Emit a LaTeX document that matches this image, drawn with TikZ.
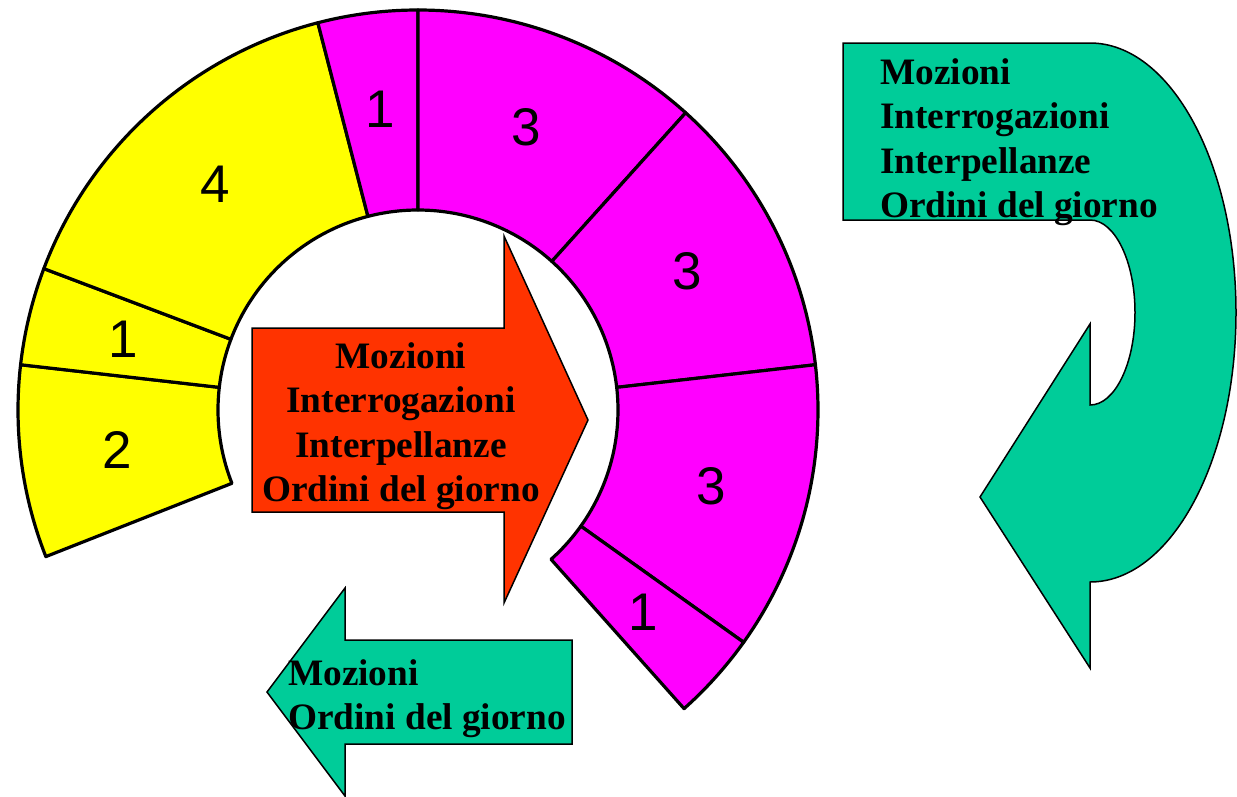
\documentclass[tikz,border=0pt]{standalone}
\usepackage{fontspec}
\setmainfont{Liberation Serif}
\newfontfamily\numfont{Liberation Sans}

\definecolor{segyellow}{RGB}{255,255,0}
\definecolor{segmagenta}{RGB}{255,0,255}
\definecolor{arrowred}{RGB}{255,51,0}
\definecolor{arrowgreen}{RGB}{0,204,153}

\tikzset{
  sector/.style={draw=black, line width=3.2pt, line join=round},
  segnum/.style={font=\numfont\fontsize{53}{53}\selectfont, inner sep=0pt},
  bigarrow/.style={draw=black, line width=1.5pt},
  itemtext/.style={font=\bfseries\fontsize{37.3}{44.6}\selectfont, inner sep=0pt}
}

\begin{document}
\begin{tikzpicture}[x=1pt, y=-1pt]
  \useasboundingbox (0,0) rectangle (1237,796);

  % ring of seats
  \begin{scope}[shift={(418,410)}]
    \foreach \a/\b/\c/\n [count=\i] in {-201.5/-173.5/segyellow/2, -173.5/-159.3/segyellow/1,
        -159.3/-104.5/segyellow/4, -104.5/-90/segmagenta/1, -90/-48/segmagenta/3,
        -48/-6.5/segmagenta/3, -6.5/35.5/segmagenta/3, 35.5/48.3/segmagenta/1}
    {
      \draw[sector, fill=\c] (\a:200) -- (\a:400) arc[start angle=\a, end angle=\b, radius=400]
        -- (\b:200) arc[start angle=\b, end angle=\a, radius=200] -- cycle;
      \node[segnum] (seg\i) at ({(\a+\b)/2}:303) {\n};
    }
  \end{scope}

  % arrows
  \draw[bigarrow, fill=arrowred] (252,328) -- (504,328) -- (504,236) -- (588,420)
    -- (504,603) -- (504,512) -- (252,512) -- cycle;
  \draw[bigarrow, fill=arrowgreen] (572,640) -- (345,640) -- (345,588) -- (267,692)
    -- (345,796) -- (345,744) -- (572,744) -- cycle;
  \draw[bigarrow, fill=arrowgreen] (843,43) -- (1090,43)
    arc[start angle=-90, end angle=90, x radius=146, y radius=269.5]
    -- (1090,668) -- (980,497) -- (1090,324) -- (1090,405)
    arc[start angle=90, end angle=-90, x radius=45, y radius=92.5]
    -- (843,220) -- cycle;

  % texts
  \node[itemtext, anchor=north, align=center] (centre) at (401,342)
    {Mozioni\\Interrogazioni\\Interpellanze\\Ordini del giorno};
  \node[itemtext, anchor=north west, align=left] (loop) at (880,58)
    {Mozioni\\Interrogazioni\\Interpellanze\\Ordini del giorno};
  \node[itemtext, anchor=north west, align=left] (back) at (288,659)
    {Mozioni\\Ordini del giorno};
\end{tikzpicture}
\end{document}
